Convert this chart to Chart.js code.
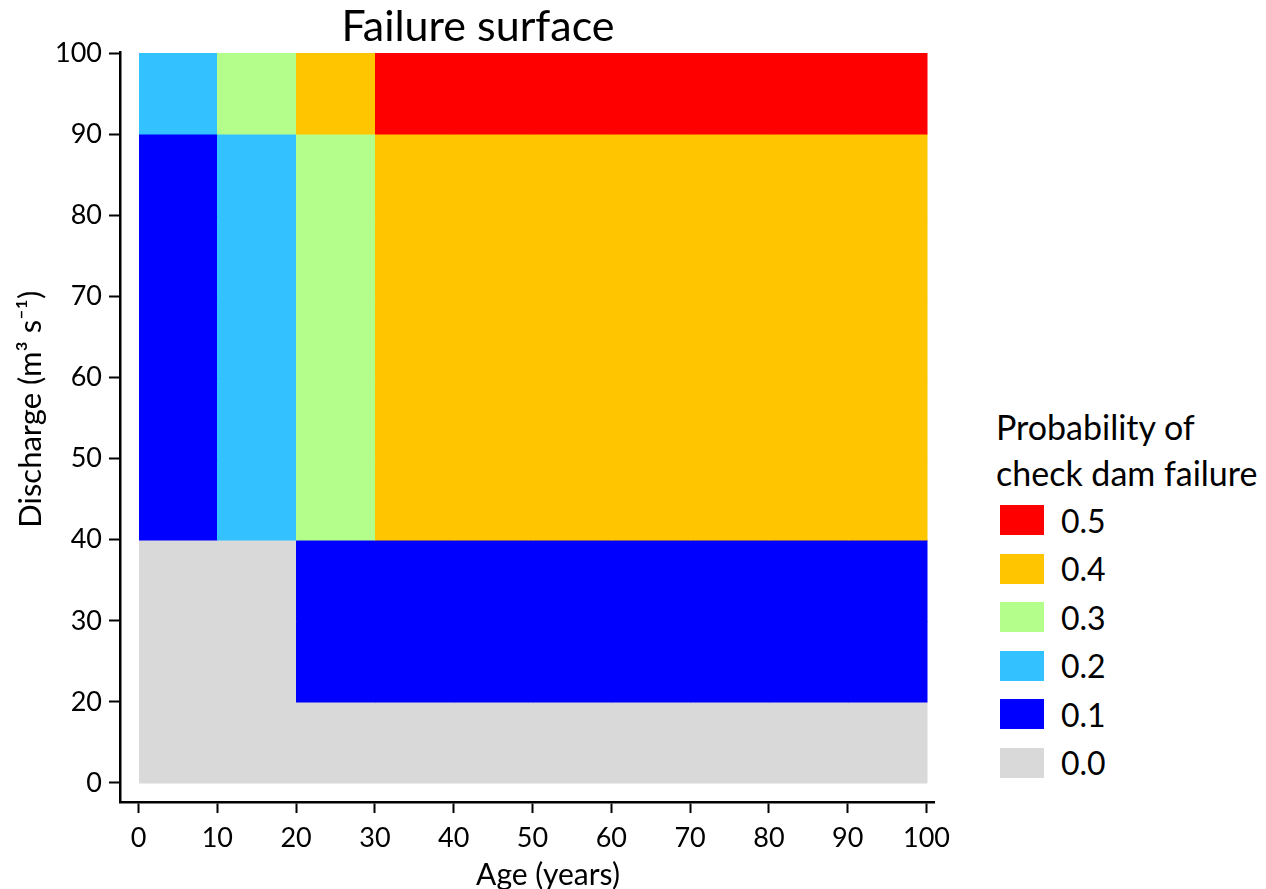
<!DOCTYPE html>
<html>
<head>
<meta charset="utf-8">
<script src="https://cdn.jsdelivr.net/npm/chart.js@4.4.1/dist/chart.umd.min.js"></script>
<style>
  body { margin: 0; background: #fff; font-family: Lato, sans-serif; }
  #wrap { position: relative; width: 1266px; height: 889px; overflow: hidden; }
  #chartBox { position: absolute; left: 0; top: 0; width: 956px; height: 889px; }
  #legend { position: absolute; left: 996px; top: 404px; color: #000; }
  #legend .ttl { font-size: 34px; line-height: 46px; }
  #legend .item { height: 48.5px; display: flex; align-items: center; font-size: 32px; }
  #legend .sw { width: 44px; height: 30px; margin: 0 17px 0 4px; }
</style>
</head>
<body>
<div id="wrap">
  <div id="chartBox"><canvas id="failChart" width="956" height="889"></canvas></div>
  <div id="legend"></div>
</div>
<script>
// x edges (years) and y tick labels (discharge), bottom to top
var ages = [0, 10, 20, 30, 40, 50, 60, 70, 80, 90, 100];
var dischargeLabels = ['0', '20', '30', '40', '50', '60', '70', '80', '90', '100'];

// legend levels and colours
var levels = [0.5, 0.4, 0.3, 0.2, 0.1, 0.0];
var levelColors = ['#ff0000', '#ffc600', '#b4ff8c', '#33c2ff', '#0000ff', '#d9d9d9'];

// failure probability per cell, one row per discharge band (bottom to top)
var row0 = [0, 0, 0, 0, 0, 0, 0, 0, 0, 0];
var row1 = [0, 0, 0.1, 0.1, 0.1, 0.1, 0.1, 0.1, 0.1, 0.1];
var row2 = [0, 0, 0.1, 0.1, 0.1, 0.1, 0.1, 0.1, 0.1, 0.1];
var row3 = [0.1, 0.2, 0.3, 0.4, 0.4, 0.4, 0.4, 0.4, 0.4, 0.4];
var row4 = [0.1, 0.2, 0.3, 0.4, 0.4, 0.4, 0.4, 0.4, 0.4, 0.4];
var row5 = [0.1, 0.2, 0.3, 0.4, 0.4, 0.4, 0.4, 0.4, 0.4, 0.4];
var row6 = [0.1, 0.2, 0.3, 0.4, 0.4, 0.4, 0.4, 0.4, 0.4, 0.4];
var row7 = [0.1, 0.2, 0.3, 0.4, 0.4, 0.4, 0.4, 0.4, 0.4, 0.4];
var row8 = [0.2, 0.3, 0.4, 0.5, 0.5, 0.5, 0.5, 0.5, 0.5, 0.5];
var probRows = [row0, row1, row2, row3, row4, row5, row6, row7, row8];

function colorFor(v) {
  for (var k = 0; k < levels.length; k++) {
    if (Math.abs(levels[k] - v) < 1e-6) return levelColors[k];
  }
  return '#ffffff';
}

// draw the cells through the chart scales
var cellPlugin = {
  id: 'cells',
  beforeDatasetsDraw: function(chart) {
    var ctx = chart.ctx, xs = chart.scales.x, ys = chart.scales.y;
    ctx.save();
    for (var r = 0; r < probRows.length; r++) {
      var yTop = ys.getPixelForValue(r + 1), yBot = ys.getPixelForValue(r);
      for (var c = 0; c < probRows[r].length; c++) {
        var x0 = xs.getPixelForValue(ages[c]), x1 = xs.getPixelForValue(ages[c + 1]);
        ctx.fillStyle = colorFor(probRows[r][c]);
        ctx.fillRect(Math.round(x0), Math.round(yTop), Math.round(x1) - Math.round(x0) + 0.5, Math.round(yBot) - Math.round(yTop) + 0.5);
      }
    }
    ctx.restore();
  }
};

// axis titles (placed a bit off-centre like the original)
var axisTitlePlugin = {
  id: 'axisTitles',
  afterDraw: function(chart) {
    var ctx = chart.ctx, area = chart.chartArea;
    ctx.save();
    ctx.fillStyle = '#000';
    ctx.textAlign = 'center';
    ctx.textBaseline = 'middle';
    ctx.font = '30px Lato';
    ctx.fillText('Age (years)', (area.left + area.right) / 2 + 21, 875);
    ctx.translate(31, (area.top + area.bottom) / 2 - 18);
    ctx.rotate(-Math.PI / 2);
    ctx.font = '31px Lato';
    ctx.fillText('Discharge (m\u00b3 s\u207b\u00b9)', 0, 0);
    ctx.restore();
  }
};

var axisFont = { family: 'Lato', size: 27 };

new Chart(document.getElementById('failChart'), {
  type: 'scatter',
  data: { datasets: [] },
  plugins: [cellPlugin, axisTitlePlugin],
  options: {
    responsive: false,
    animation: false,
    layout: { padding: 0 },
    plugins: {
      legend: { display: false },
      tooltip: { enabled: false },
      title: {
        display: true,
        text: 'Failure surface',
        color: '#000',
        font: { family: 'Lato', size: 43, weight: 'normal' },
        padding: { top: 1, bottom: 0 }
      }
    },
    scales: {
      x: {
        type: 'linear',
        min: -2.35,
        max: 100.95,
        afterBuildTicks: function(s) { s.ticks = ages.map(function(v) { return { value: v }; }); },
        afterFit: function(s) { s.height = 87; s.paddingRight = 22; s.paddingLeft = 0; },
        ticks: { color: '#000', font: axisFont, padding: 9, maxRotation: 0 },
        grid: { drawOnChartArea: false, drawTicks: true, tickLength: 11, color: '#000', tickWidth: 2 },
        border: { display: true, color: '#000', width: 2.5 }
      },
      y: {
        type: 'linear',
        min: -0.235,
        max: 9.01,
        afterBuildTicks: function(s) { s.ticks = dischargeLabels.map(function(l, i) { return { value: i }; }); },
        afterFit: function(s) { s.width = 120; },
        ticks: {
          color: '#000', font: axisFont, padding: 7,
          callback: function(v) { return dischargeLabels[v]; }
        },
        grid: { drawOnChartArea: false, drawTicks: true, tickLength: 11, color: '#000', tickWidth: 2 },
        border: { display: true, color: '#000', width: 2.5 }
      }
    }
  }
});

// legend
var lg = document.getElementById('legend');
var html = '<div class="ttl">Probability of</div><div class="ttl">check dam failure</div>';
for (var i = 0; i < levels.length; i++) {
  html += '<div class="item"><div class="sw" style="background:' + levelColors[i] + '"></div>' + levels[i].toFixed(1) + '</div>';
}
lg.innerHTML = html;
</script>
</body>
</html>
